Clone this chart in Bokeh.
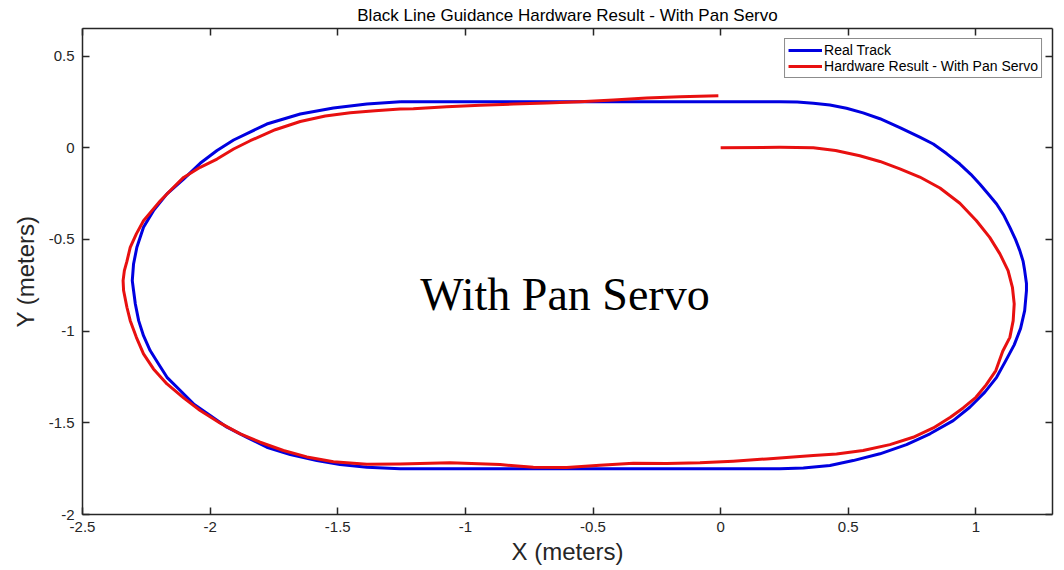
from bokeh.plotting import figure
from bokeh.models import Range1d, LinearAxis, FixedTicker, Legend, LegendItem, Label
from bokeh.embed import file_html
from bokeh.resources import INLINE

# ---- data ----
track_x = [-1.255, -0.60, 0.00, 0.232, 0.300, 0.363, 0.428, 0.493, 0.558, 0.624, 0.702, 0.780,
           0.833, 0.885, 0.937, 0.980, 1.015, 1.050, 1.081, 1.110, 1.133, 1.155, 1.172, 1.185,
           1.191, 1.198, 1.198, 1.191, 1.175, 1.150, 1.117, 1.081, 1.035, 0.976, 0.911, 0.820,
           0.728, 0.624, 0.519, 0.428, 0.324, 0.232, 0.00, -0.60, -1.256, -1.386, -1.491,
           -1.582, -1.686, -1.778, -1.856, -1.934, -2.000, -2.065, -2.117, -2.169, -2.202,
           -2.235, -2.261, -2.280, -2.293, -2.300, -2.305, -2.300, -2.287, -2.261, -2.222,
           -2.169, -2.104, -2.039, -1.973, -1.908, -1.778, -1.647, -1.517, -1.386, -1.255]
track_y = [0.250, 0.250, 0.250, 0.250, 0.249, 0.243, 0.233, 0.215, 0.190, 0.158, 0.110, 0.058,
           0.020, -0.032, -0.089, -0.145, -0.198, -0.255, -0.307, -0.370, -0.434, -0.500, -0.561, -0.620,
           -0.670, -0.740, -0.779, -0.888, -0.985, -1.075, -1.161, -1.252, -1.333, -1.415, -1.488, -1.560,
           -1.619, -1.669, -1.706, -1.733, -1.746, -1.750, -1.750, -1.750, -1.750, -1.742, -1.728,
           -1.706, -1.673, -1.633, -1.579, -1.524, -1.460, -1.397, -1.324, -1.252, -1.179,
           -1.106, -1.025, -0.943, -0.852, -0.779, -0.725, -0.634, -0.543, -0.434, -0.343,
           -0.252, -0.171, -0.085, -0.015, 0.042, 0.129, 0.184, 0.216, 0.238, 0.250]

hw_x = [0.000, 0.232, 0.363, 0.450, 0.545, 0.624, 0.702, 0.780, 0.859, 0.937, 1.002, 1.054,
        1.094, 1.126, 1.143, 1.150, 1.146, 1.133, 1.105, 1.078, 1.040, 1.000, 0.950, 0.900,
        0.833, 0.754, 0.663, 0.558, 0.454, 0.363, 0.310, 0.180, 0.049, -0.081, -0.211,
        -0.342, -0.473, -0.603, -0.734, -0.864, -1.060, -1.256, -1.386, -1.517, -1.621,
        -1.713, -1.804, -1.882, -1.960, -2.039, -2.104, -2.169, -2.222, -2.261, -2.289,
        -2.313, -2.326, -2.339, -2.341, -2.336, -2.326, -2.313, -2.289, -2.261, -2.228,
        -2.195, -2.150, -2.104, -2.039, -1.973, -1.908, -1.843, -1.745, -1.647, -1.549,
        -1.451, -1.354, -1.256, -1.204, -1.073, -0.942, -0.812, -0.681, -0.551, -0.420,
        -0.290, -0.159, -0.009]
hw_y = [0.000, 0.002, 0.000, -0.015, -0.044, -0.075, -0.115, -0.160, -0.220, -0.303, -0.398, -0.489,
        -0.579, -0.670, -0.761, -0.852, -0.943, -1.034, -1.110, -1.215, -1.293, -1.361, -1.419, -1.470,
        -1.528, -1.579, -1.619, -1.651, -1.670, -1.678, -1.684, -1.697, -1.709, -1.718, -1.722,
        -1.720, -1.731, -1.744, -1.742, -1.728, -1.718, -1.724, -1.726, -1.712, -1.686,
        -1.651, -1.606, -1.560, -1.502, -1.433, -1.364, -1.288, -1.206, -1.124, -1.034,
        -0.943, -0.870, -0.779, -0.725, -0.670, -0.620, -0.543, -0.470, -0.398, -0.343,
        -0.289, -0.225, -0.162, -0.107, -0.062, -0.007, 0.038, 0.098, 0.143, 0.173,
        0.191, 0.202, 0.211, 0.213, 0.223, 0.231, 0.238, 0.244, 0.251, 0.260,
        0.271, 0.278, 0.283]

x_ticks = [-2.5, -2, -1.5, -1, -0.5, 0, 0.5, 1]
x_tick_labels = ["-2.5", "-2", "-1.5", "-1", "-0.5", "0", "0.5", "1"]
y_ticks = [-2, -1.5, -1, -0.5, 0, 0.5]
y_tick_labels = ["-2", "-1.5", "-1", "-0.5", "0", "0.5"]

title_text = "Black Line Guidance Hardware Result - With Pan Servo"
series_names = ["Real Track", "Hardware Result - With Pan Servo"]
annotation_text = "With Pan Servo"

AX = "#262626"
FONT = "Liberation Sans"

p = figure(width=1064, height=570, output_backend="svg", toolbar_location=None,
           x_range=Range1d(-2.5, 1.3), y_range=Range1d(-2.0, 0.65),
           x_axis_label="X (meters)", y_axis_label="Y (meters)",
           min_border_left=82, min_border_right=12, min_border_top=28, min_border_bottom=56)
p.grid.visible = False
p.outline_line_color = None
p.background_fill_color = "white"
p.border_fill_color = "white"

r_track = p.line(track_x, track_y, line_color="#0000e0", line_width=3, line_join="round")
r_hw = p.line(hw_x, hw_y, line_color="#e81010", line_width=3, line_join="round")

def style_axis(ax, ticks, labels, show_labels=True):
    ax.ticker = FixedTicker(ticks=ticks)
    ax.major_label_overrides = {t: l for t, l in zip(ticks, labels)}
    ax.major_tick_in = 7
    ax.major_tick_out = 0
    ax.minor_tick_line_color = None
    ax.major_tick_line_color = AX
    ax.major_tick_line_width = 1.5
    ax.axis_line_color = AX
    ax.axis_line_width = 1.5
    ax.major_label_text_font = FONT
    ax.major_label_text_color = AX
    ax.axis_label_text_font = FONT
    ax.axis_label_text_font_style = "normal"
    ax.axis_label_text_color = AX
    if not show_labels:
        ax.major_label_text_alpha = 0
        ax.major_label_text_font_size = "1px"
        ax.major_label_standoff = 0

xa = p.xaxis[0]
style_axis(xa, x_ticks, x_tick_labels)
xa.major_label_text_font_size = "15px"
xa.major_label_standoff = 7
xa.axis_label_text_font_size = "24px"
xa.axis_label_standoff = 3

ya = p.yaxis[0]
style_axis(ya, y_ticks, y_tick_labels)
ya.major_label_text_font_size = "15px"
ya.major_label_standoff = 8
ya.axis_label_text_font_size = "24px"
ya.axis_label_standoff = 7

top = LinearAxis(axis_label=title_text)
style_axis(top, x_ticks, x_tick_labels, show_labels=False)
top.axis_label_text_font_size = "17px"
top.axis_label_text_color = "black"
top.axis_label_standoff = 4
p.add_layout(top, "above")

right = LinearAxis()
style_axis(right, y_ticks, y_tick_labels, show_labels=False)
p.add_layout(right, "right")

legend = Legend(items=[LegendItem(label=series_names[0], renderers=[r_track]),
                       LegendItem(label=series_names[1], renderers=[r_hw])],
                location="top_right", margin=10, padding=3, spacing=0,
                glyph_width=34, glyph_height=16, label_height=16, label_standoff=2,
                label_text_font=FONT, label_text_font_size="14px", label_text_color="black",
                border_line_color="#1a1a1a", border_line_width=1.5,
                background_fill_color="white", background_fill_alpha=1.0)
p.add_layout(legend, "center")

p.add_layout(Label(x=-0.61, y=-0.80, text=annotation_text, text_align="center",
                   text_baseline="middle", text_font="Liberation Serif",
                   text_font_size="46px", text_color="black"))

open("out.html", "w").write(file_html(p, INLINE))
